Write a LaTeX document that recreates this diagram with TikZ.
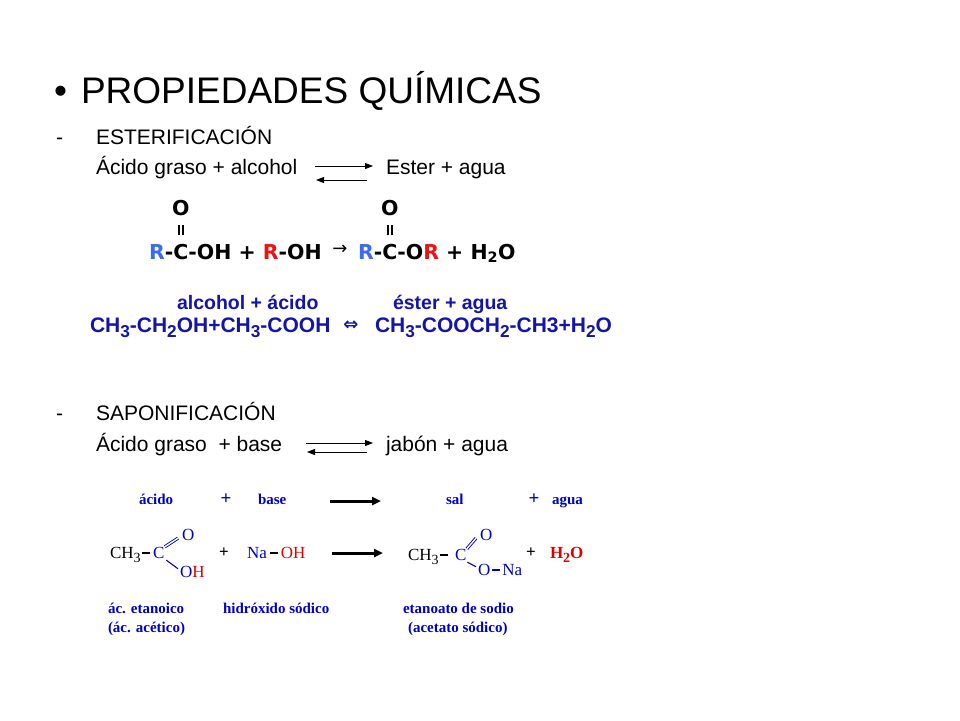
\documentclass[tikz,border=0pt]{standalone}
\usepackage{fontspec}
\usepackage{graphicx}
\setmainfont{Liberation Sans}
\newfontfamily\verd{DejaVu Sans}
\newfontfamily\tms{Liberation Serif}
\usetikzlibrary{arrows.meta}
\definecolor{rblue}{RGB}{59,107,238}
\definecolor{rred}{RGB}{235,20,20}
\definecolor{navy}{RGB}{20,20,170}
\definecolor{sblue}{RGB}{0,0,204}
\definecolor{sred}{RGB}{220,0,0}
\newcommand\fs[1]{\fontsize{#1}{#1}\selectfont}
\newcommand\sbs[1]{\raisebox{-0.28em}{\scalebox{0.82}{#1}}}
\newcommand\ssub[1]{\raisebox{-0.25em}{\fontsize{14}{14}\selectfont #1}}
\newcommand\carbC{\ooalign{C\cr\hidewidth\raisebox{2.1em}{O}\hidewidth\cr\hidewidth\raisebox{1.15em}{\rule{0.12em}{0.52em}\hspace{0.08em}\rule{0.12em}{0.52em}}\hidewidth\cr}}
\newcommand\bdash{\rule[0.26em]{8pt}{2pt}}
\begin{document}
\begin{tikzpicture}[x=1pt,y=-1pt,
  every node/.style={inner sep=0pt,outer sep=0pt},
  t/.style={anchor=base west},
  body/.style={font=\fs{21}},
  eqf/.style={font=\verd\bfseries\fs{20.5}},
  nv/.style={font=\bfseries\fs{21},text=navy},
  lbl/.style={font=\tms\bfseries\fs{15},text=sblue},
  mol/.style={font=\tms\fs{17}},
  thinarr/.style={line width=1pt,-{Triangle[length=8pt,width=6pt]}},
  thickarr/.style={line width=3pt,-{Triangle[length=9pt,width=8pt]}},
  sbond/.style={sblue,line width=1.1pt},
  dbond/.style={sblue,double=white,line width=0.9pt,double distance=1.4pt}]
\useasboundingbox[fill=white] (0,0) rectangle (960,720);
% title
\node[t,font=\fs{37}] (bul) at (54,103) {•};
\node[t,font=\fs{37}] (title) at (81,103) {PROPIEDADES QUÍMICAS};
% esterificacion
\node[t,body] (d1) at (56,144) {-};
\node[t,body] (est) at (96,144) {ESTERIFICACIÓN};
\node[t,body] (ag) at (96,174) {Ácido graso + alcohol};
\node[t,body] (ea) at (386,174) {Ester + agua};
\coordinate (a1s) at (315,166); \coordinate (a1e) at (373,166);
\coordinate (b1s) at (367,180); \coordinate (b1e) at (316,180);
\draw[thinarr] (a1s) -- (a1e);
\draw[thinarr] (b1s) -- (b1e);
% general formula
\node[t,eqf] (f1) at (149,259) {\textcolor{rblue}{R}-\carbC-OH + \textcolor{rred}{R}-OH};
\node[font=\verd\fs{18}] (f1arr) at (340,250) {→};
\node[t,eqf] (f2) at (358,259) {\textcolor{rblue}{R}-\carbC-O\textcolor{rred}{R} + H\textsubscript{2}O};
% example
\node[t,nv,font=\bfseries\fs{19.5}] (l1) at (177,309) {alcohol + ácido};
\node[t,nv,font=\bfseries\fs{19.5}] (l2) at (393,309) {éster + agua};
\node[t,nv] (m1) at (90,332) {CH\sbs{3}-CH\sbs{2}OH+CH\sbs{3}-COOH};
\node[font=\verd\bfseries\fs{18},text=navy] (eqv) at (351,326) {⇔};
\node[t,nv] (m2) at (375,332) {CH\sbs{3}-COOCH\sbs{2}-CH3+H\sbs{2}O};
% saponificacion
\node[t,body] (d2) at (56,420) {-};
\node[t,body] (sap) at (96,420) {SAPONIFICACIÓN};
\node[t,body] (ab) at (96,451) {Ácido graso\ \ + base};
\node[t,body] (jab) at (386,451) {jabón + agua};
\coordinate (a2s) at (306,443); \coordinate (a2e) at (373,443);
\coordinate (b2s) at (367,452); \coordinate (b2e) at (307,452);
\draw[thinarr] (a2s) -- (a2e);
\draw[thinarr] (b2s) -- (b2e);
% row 1
\node[t,lbl] (acido) at (139,504) {ácido};
\node[lbl,font=\tms\bfseries\fs{19}] (p1) at (226,499) {+};
\node[t,lbl] (base) at (258,504) {base};
\node[t,lbl] (sal) at (446,504) {sal};
\node[lbl,font=\tms\bfseries\fs{19}] (p2) at (534,499) {+};
\node[t,lbl] (agua) at (552,504) {agua};
\coordinate (r1s) at (330,501); \coordinate (r1e) at (381,501);
\draw[thickarr] (r1s) -- (r1e);
% row 2 reactants
\node[t,mol] (ch3a) at (110,558) {CH\ssub{3}\hspace{1.5pt}\bdash};
\node[t,mol,text=sblue] (ca) at (153,558) {C};
\node[t,mol,text=sblue] (oa) at (182,540) {O};
\node[t,mol] (oha) at (180,577) {\textcolor{sblue}{O}\textcolor{sred}{H}};
\draw[dbond] ([xshift=0.5pt]ca.north east) -- ([xshift=-4pt,yshift=2pt]oa.south west);
\draw[sbond] ([xshift=2pt,yshift=-2pt]ca.south east) -- ([xshift=-2pt,yshift=-3pt]oha.north west);
\node[mol,font=\tms\bfseries\fs{17}] (p3) at (224,553) {+};
\node[t,mol] (naoh) at (247,558) {\textcolor{sblue}{Na}\hspace{3pt}\bdash\hspace{3pt}\textcolor{sred}{OH}};
\coordinate (r2s) at (332,553); \coordinate (r2e) at (383,553);
\draw[thickarr] (r2s) -- (r2e);
% row 2 products
\node[t,mol] (ch3b) at (408,560) {CH\ssub{3}\hspace{1.5pt}\bdash};
\node[t,mol,text=sblue] (cb) at (455,560) {C};
\node[t,mol,text=sblue] (ob) at (480,540) {O};
\node[t,mol,text=sblue] (ona) at (478,575) {O\hspace{2pt}\bdash\hspace{2pt}Na};
\draw[dbond] ([xshift=0.5pt]cb.north east) -- ([xshift=-4pt,yshift=2pt]ob.south west);
\draw[sbond] ([xshift=1pt,yshift=-2pt]cb.south east) -- ([xshift=-2pt,yshift=-3pt]ona.north west);
\node[mol,font=\tms\bfseries\fs{17}] (p4) at (531,553) {+};
\node[t,mol,font=\tms\bfseries\fs{17},text=sred] (h2o) at (550,558) {H\ssub{2}O};
% row 3 labels
\node[t,lbl] (lab1) at (108,613) {ác. etanoico};
\node[t,lbl] (lab2) at (108,632) {(ác. acético)};
\node[t,lbl] (lab3) at (223,613) {hidróxido sódico};
\node[t,lbl] (lab4) at (403,613) {etanoato de sodio};
\node[t,lbl] (lab5) at (408,632) {(acetato sódico)};
\end{tikzpicture}
\end{document}
